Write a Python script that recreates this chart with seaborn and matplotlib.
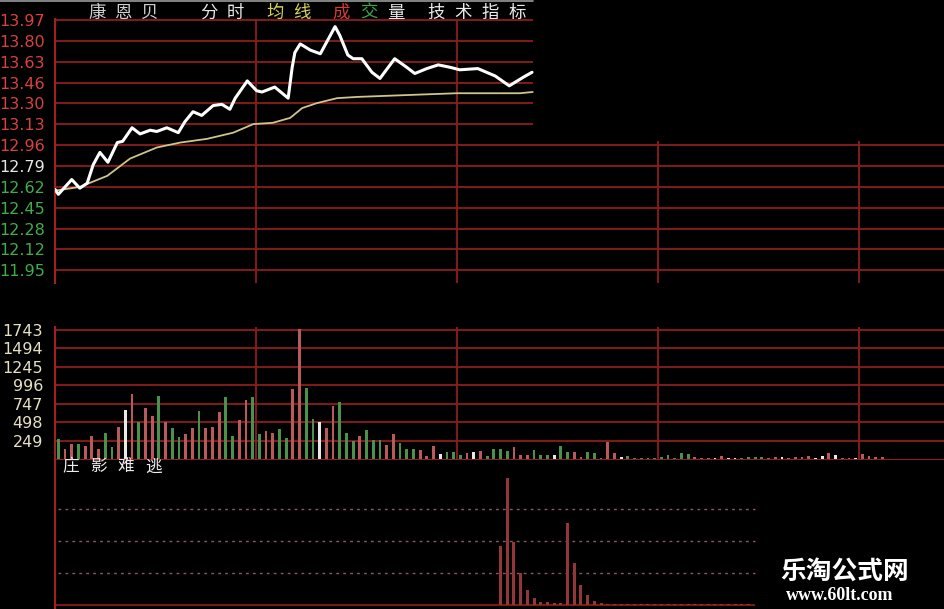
import numpy as np
import pandas as pd
import matplotlib
matplotlib.use('Agg')
from matplotlib import pyplot as plt
from matplotlib.patches import Rectangle
from matplotlib.lines import Line2D
import seaborn as sns

# 分时线 (分钟, 价格)
price_min = [0, 0.5, 2.5, 3.7, 4.8, 5.7, 6.7, 7.9, 9.3, 10.1, 11.5, 12.7, 14.2, 15.2,
             16.7, 18.4, 19.4, 20.6, 21.9, 23.6, 24.9, 26.1, 26.9, 28.7, 30.1, 30.9,
             32.8, 34.8, 35.4, 35.8, 36.6, 38.1, 39.6, 41.8, 42.5, 43.7, 44.5, 45.8,
             47.3, 48.5, 50.7, 52.5, 53.7, 55.5, 57.2, 59.0, 60.4, 63.1, 65.7, 67.8,
             69.9, 71.2]
price_val = [12.60, 12.56, 12.68, 12.61, 12.65, 12.80, 12.90, 12.82, 12.98, 12.99,
             13.10, 13.05, 13.08, 13.07, 13.10, 13.06, 13.15, 13.23, 13.20, 13.28,
             13.29, 13.25, 13.34, 13.48, 13.40, 13.39, 13.43, 13.34, 13.59, 13.71,
             13.78, 13.73, 13.70, 13.92, 13.85, 13.69, 13.66, 13.66, 13.55, 13.50,
             13.66, 13.59, 13.54, 13.58, 13.61, 13.59, 13.57, 13.58, 13.52, 13.44,
             13.51, 13.55]

# 均线
avg_min = [0, 3.7, 7.8, 11.2, 15.2, 18.7, 22.7, 26.6, 29.6, 32.5, 35.1, 36.9, 39.1,
           42.1, 45.1, 50.0, 54.9, 60.0, 69.4, 71.3]
avg_val = [12.59, 12.62, 12.71, 12.85, 12.94, 12.98, 13.01, 13.06, 13.13, 13.14,
           13.18, 13.26, 13.30, 13.34, 13.35, 13.36, 13.37, 13.38, 13.38, 13.39]

price_ticks = [13.97, 13.80, 13.63, 13.46, 13.30, 13.13, 12.96, 12.79, 12.62, 12.45,
               12.28, 12.12, 11.95]
prev_close = 12.79

# 成交量
vol = [279, 144, 211, 202, 188, 310, 144, 359, 166, 444,
       660, 884, 502, 696, 592, 852, 502, 426, 300, 346,
       426, 646, 421, 435, 633, 839, 310, 525, 803, 839,
       346, 377, 354, 413, 292, 951, 1760, 965, 540, 510,
       420, 718, 775, 360, 250, 310, 400, 265, 265, 190,
       348, 219, 137, 137, 124, 46, 175, 69, 105, 105,
       65, 94, 101, 114, 46, 148, 148, 114, 162, 55,
       55, 124, 55, 55, 55, 175, 101, 101, 36, 105,
       82, 20, 229, 82, 32, 46, 25, 25, 25, 25,
       32, 55, 25, 94, 69, 32, 25, 25, 25, 46,
       25, 25, 25, 32, 32, 32, 25, 32, 32, 25,
       32, 32, 46, 25, 46, 82, 55, 25, 25, 25,
       69, 46, 36, 32]
vol_dir = list("grrgrrrggr" "wrgrrgrggr" "rgrrrggrrg" "grrggrrggw" "rrgggrgggr"
               "rgggrrrwgg" "grwrggggrr" "rgggwggrrg" "ggrrwggggg" "gggggrrrwr"
               "wwggggrrwr" "rrrwwrwrrw" "rrrr")
vol_ticks = [1743, 1494, 1245, 996, 747, 498, 249]

# 庄影难逃
ind_start = 66
ind_val = [1.84, 3.97, 1.97, 1.00, 0.47, 0.23, 0.10, 0.08, 0.06, 0.05,
           2.57, 1.31, 0.63, 0.31, 0.13, 0.06, 0.04, 0.04, 0.04, 0.04,
           0.04, 0.04, 0.04, 0.04, 0.04, 0.04, 0.04, 0.04, 0.04, 0.04,
           0.04, 0.04, 0.04, 0.04, 0.04, 0.04, 0.04, 0.04]

W, H = 945, 609
grid_red = '#8e1d1d'
red, green, white = '#c84a4a', '#3e9e3e', '#e8e8e8'


def rect(x0, y0, x1, y1):
    return [x0 / W, 1 - y1 / H, (x1 - x0) / W, (y1 - y0) / H]


def word(fig, text, x0, x1, y, color, size=12.5, weight='normal'):
    step = (x1 - x0) / len(text)
    for k, ch in enumerate(text):
        fig.text((x0 + step * (k + 0.5)) / W, 1 - y / H, ch, color=color,
                 fontsize=size, ha='center', va='center', weight=weight)


def style(ax, ylim):
    ax.set_facecolor('black')
    ax.set_xlim(0, (W - 55) / 6.7)
    ax.set_ylim(*ylim)
    for s in ax.spines.values():
        s.set_visible(False)
    ax.spines['left'].set_visible(True)
    ax.spines['left'].set_color('#a02020')
    ax.spines['left'].set_linewidth(1.5)
    ax.set_xlabel('')
    ax.set_ylabel('')
    ax.tick_params(length=0, labelbottom=False)


def main():
    sns.set_theme(style='dark', rc={'axes.facecolor': 'black', 'figure.facecolor': 'black'})
    plt.rcParams['font.family'] = ['Noto Sans CJK SC', 'DejaVu Sans']

    fig = plt.figure(figsize=(W / 100, H / 100), dpi=100, facecolor='black')

    # 分时
    ax_p = fig.add_axes(rect(55, 19, W, 283))
    sns.lineplot(x=avg_min, y=avg_val, color='#cfc48a', lw=1.3, ax=ax_p, zorder=3)
    sns.lineplot(x=price_min, y=price_val, color='white', lw=2.2, ax=ax_p, zorder=4)
    style(ax_p, (11.841, 13.982))
    ax_p.set_axisbelow(True)
    ax_p.set_yticks(price_ticks)
    ax_p.set_yticklabels([f'{v:.2f}' for v in price_ticks])
    ax_p.set_xticks([0, 30, 60, 90, 120])
    ax_p.grid(True, color=grid_red, lw=1.3)
    ax_p.add_patch(Rectangle((71.4, 12.993), 200, 5, facecolor='black', edgecolor='none', zorder=2))
    ax_p.tick_params(axis='y', pad=7.2, labelsize=11.5)
    for lab, v in zip(ax_p.get_yticklabels(), price_ticks):
        lab.set_family('DejaVu Sans')
        lab.set_color('#d94040' if v > prev_close else ('#e6e6e6' if v == prev_close else '#3fae48'))

    # 成交量
    ax_v = fig.add_axes(rect(55, 327, W, 459.5))
    vdf = pd.DataFrame({'t': np.arange(len(vol)) + 0.5, 'vol': vol, 'dir': vol_dir})
    sns.barplot(data=vdf, x='t', y='vol', hue='dir', palette={'r': red, 'g': green, 'w': white},
                native_scale=True, dodge=False, width=0.42, linewidth=0, errorbar=None,
                legend=False, ax=ax_v, zorder=3)
    style(ax_v, (0, 1783))
    ax_v.set_axisbelow(True)
    ax_v.set_yticks(vol_ticks)
    ax_v.set_yticklabels([str(v) for v in vol_ticks])
    ax_v.set_xticks([0, 30, 60, 90, 120])
    ax_v.grid(True, color=grid_red, lw=1.3)
    ax_v.axhline(0, color=grid_red, lw=1.5, zorder=4)
    ax_v.tick_params(axis='y', pad=8.6, labelsize=11.5, labelcolor='#e6dfc2')
    for lab in ax_v.get_yticklabels():
        lab.set_family('DejaVu Sans')

    # 庄影难逃
    ax_i = fig.add_axes(rect(55, 459.5, W, H))
    idf = pd.DataFrame({'t': np.arange(len(ind_val)) + ind_start + 0.5, 'v': ind_val})
    sns.barplot(data=idf, x='t', y='v', color='#a3262a', native_scale=True, width=0.45,
                linewidth=0, errorbar=None, ax=ax_i, zorder=3)
    style(ax_i, (-0.125, 4.547))
    ax_i.set_xticks([])
    ax_i.set_yticks([])
    ax_i.grid(False)
    ax_i.hlines([1, 2, 3], 0.4, 104.5, colors='#8a5a60', linestyles=(0, (2, 3)), lw=1.0, zorder=1)
    ax_i.hlines(0, 0, 104.5, colors='#7a1818', lw=1.5, zorder=2)

    # 标题
    word(fig, '康恩贝', 84, 162, 13, '#cfcfcf')
    word(fig, '分时', 196, 248, 13, '#e8e8e8')
    word(fig, '均线', 262, 315, 13, '#d6d35a')
    word(fig, '成', 327, 355, 13, '#d83a3a')
    word(fig, '交', 355, 382, 13, '#3aa848')
    word(fig, '量', 382, 410, 13, '#e8e8e8')
    word(fig, '技术指标', 422, 531, 13, '#ececec')
    fig.add_artist(Line2D([0, 533 / W], [1 - 1 / H, 1 - 1 / H], color='#9a9a9a', lw=1.2))
    word(fig, '庄影难逃', 57, 167, 467, '#ececec', size=12)

    # 水印
    fig.text(845 / W, 1 - 571 / H, '乐淘公式网', color='white', fontsize=18.5, weight='bold',
             ha='center', va='center')
    fig.text(840 / W, 1 - 596 / H, 'www.60lt.com', color='white', fontsize=13, weight='bold',
             family='Liberation Serif', ha='center', va='center')

    fig.savefig('out.png', dpi=100, facecolor='black')


if __name__ == '__main__':
    main()
